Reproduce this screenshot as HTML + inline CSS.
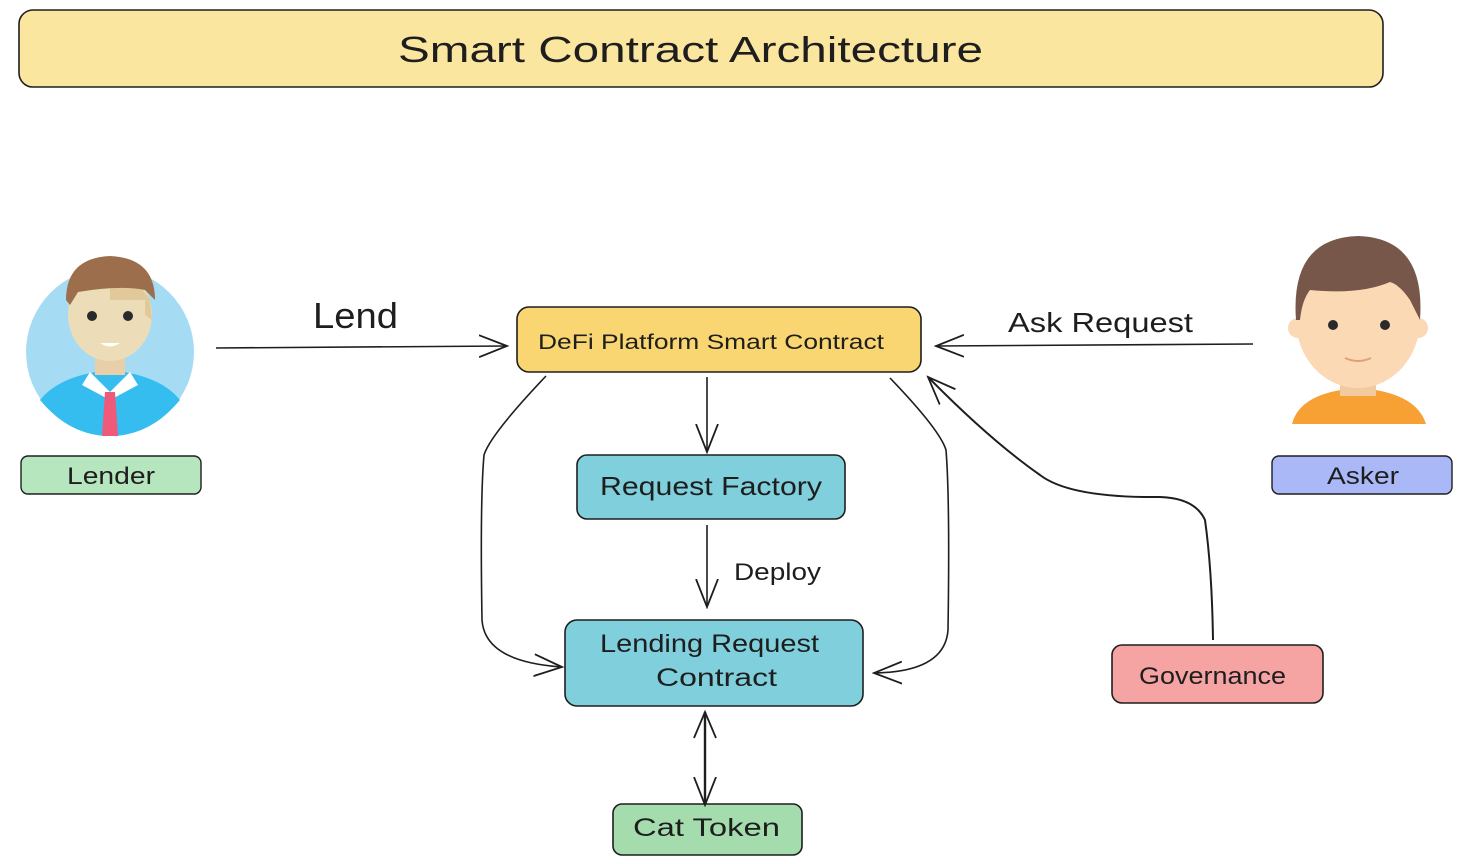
<!DOCTYPE html>
<html><head><meta charset="utf-8"><style>
html,body{margin:0;padding:0;background:#fff;}
svg{display:block}
text{font-family:"Liberation Sans",sans-serif;fill:#1e1e1e;}
</style></head><body>
<svg width="1463" height="864" viewBox="0 0 1463 864" xmlns="http://www.w3.org/2000/svg">
<defs>
<marker id="ahL" markerWidth="30" markerHeight="30" refX="28" refY="15" orient="auto" markerUnits="userSpaceOnUse">
<path d="M0,4 L28,15 L0,26" fill="none" stroke="#1e1e1e" stroke-width="1.8"/></marker>
<marker id="ahS" markerWidth="30" markerHeight="30" refX="2" refY="15" orient="auto" markerUnits="userSpaceOnUse">
<path d="M28,4 L2,15 L28,26" fill="none" stroke="#1e1e1e" stroke-width="1.8"/></marker>
</defs>

<rect x="19" y="10" width="1364" height="77" rx="14" fill="#fbe6a0" stroke="#1e1e1e" stroke-width="1.6"/>
<text x="398" y="62" font-size="36" textLength="585" lengthAdjust="spacingAndGlyphs">Smart Contract Architecture</text>

<circle cx="110" cy="352" r="84" fill="#a6dcf3"/>
<path d="M40,400 Q60,375 110,370 Q160,375 180,400 Q150,436 110,436 Q70,436 40,400Z" fill="#35bdf0"/>
<path d="M90,372 L110,392 L130,372 L138,385 L110,400 L82,385Z" fill="#fff"/>
<path d="M105,392 L115,392 L118,436 L102,436Z" fill="#ef5a7a"/>
<rect x="95" y="345" width="30" height="30" fill="#e8cfa8"/>
<ellipse cx="110" cy="315" rx="42" ry="46" fill="#ecdcb8"/>
<path d="M110,275 Q135,275 150,300 L152,320 L145,315 L145,300 L110,300Z" fill="#e2c99a"/>
<path d="M66,300 Q66,258 110,256 Q155,258 155,300 L145,290 Q120,285 78,292 L70,305Z" fill="#9c6e4b"/>
<circle cx="92" cy="316" r="5" fill="#2a2a2a"/><circle cx="128" cy="316" r="5" fill="#2a2a2a"/>
<path d="M100,343 Q110,350 120,343Z" fill="#fff"/>

<path d="M1292,424 Q1300,392 1358,388 Q1416,392 1426,424Z" fill="#f7a034"/>
<rect x="1340" y="370" width="36" height="26" fill="#f3c9a0"/>
<ellipse cx="1358" cy="320" rx="62" ry="68" fill="#fbd9b4"/>
<circle cx="1298" cy="328" r="10" fill="#fbd9b4"/><circle cx="1418" cy="328" r="10" fill="#fbd9b4"/>
<path d="M1296,320 Q1290,238 1358,236 Q1426,238 1420,320 L1410,300 Q1400,285 1390,282 Q1360,295 1310,290 Q1302,300 1300,320Z" fill="#77574a"/>
<circle cx="1333" cy="325" r="5" fill="#2a2a2a"/><circle cx="1385" cy="325" r="5" fill="#2a2a2a"/>
<path d="M1345,358 Q1358,364 1371,358" fill="none" stroke="#e0a07a" stroke-width="2"/>

<rect x="21" y="456" width="180" height="38" rx="7" fill="#b6e6bd" stroke="#1e1e1e" stroke-width="1.4"/>
<text x="67" y="484" font-size="24" textLength="88" lengthAdjust="spacingAndGlyphs">Lender</text>
<rect x="1272" y="456" width="180" height="38" rx="7" fill="#aab8f8" stroke="#1e1e1e" stroke-width="1.4"/>
<text x="1327" y="484" font-size="24" textLength="72" lengthAdjust="spacingAndGlyphs">Asker</text>

<rect x="517" y="307" width="404" height="65" rx="12" fill="#f9d671" stroke="#1e1e1e" stroke-width="1.6"/>
<text x="538" y="349" font-size="21" textLength="346" lengthAdjust="spacingAndGlyphs">DeFi Platform Smart Contract</text>
<rect x="577" y="455" width="268" height="64" rx="10" fill="#7fcfdc" stroke="#1e1e1e" stroke-width="1.6"/>
<text x="600" y="495" font-size="26" textLength="222" lengthAdjust="spacingAndGlyphs">Request Factory</text>
<rect x="565" y="620" width="298" height="86" rx="12" fill="#7fcfdc" stroke="#1e1e1e" stroke-width="1.6"/>
<text x="600" y="652" font-size="25" textLength="219" lengthAdjust="spacingAndGlyphs">Lending Request</text>
<text x="656" y="686" font-size="25" textLength="121" lengthAdjust="spacingAndGlyphs">Contract</text>
<rect x="613" y="804" width="189" height="51" rx="9" fill="#a4dcae" stroke="#1e1e1e" stroke-width="1.6"/>
<text x="633" y="836" font-size="25" textLength="147" lengthAdjust="spacingAndGlyphs">Cat Token</text>
<rect x="1112" y="645" width="211" height="58" rx="10" fill="#f5a3a3" stroke="#1e1e1e" stroke-width="1.6"/>
<text x="1139" y="684" font-size="24" textLength="147" lengthAdjust="spacingAndGlyphs">Governance</text>

<g fill="none" stroke="#1e1e1e" stroke-width="1.6">
<path d="M216,348 L507,346" marker-end="url(#ahL)"/>
<path d="M1253,344 L936,346" marker-end="url(#ahL)"/>
<path d="M707,377 L707,452" marker-end="url(#ahL)"/>
<path d="M707,525 L707,607" marker-end="url(#ahL)"/>
<path d="M546,376 Q490,435 484,455 Q480,500 482,620 Q485,662 562,667" marker-end="url(#ahL)"/>
<path d="M890,378 Q940,430 946,450 Q950,500 948,630 Q945,672 874,673" marker-end="url(#ahL)"/>
<path d="M1213,640 Q1212,570 1205,520 Q1195,498 1160,497 Q1070,498 1040,475 Q990,440 928,377" marker-end="url(#ahL)" stroke-width="2"/>
<path d="M705,712 L705,805" stroke-width="2.4" marker-start="url(#ahS)" marker-end="url(#ahL)"/>
</g>
<text x="313" y="328" font-size="36" textLength="85" lengthAdjust="spacingAndGlyphs">Lend</text>
<text x="1008" y="332" font-size="28" textLength="185" lengthAdjust="spacingAndGlyphs">Ask Request</text>
<text x="734" y="580" font-size="24" textLength="87" lengthAdjust="spacingAndGlyphs">Deploy</text>
</svg>
</body></html>
